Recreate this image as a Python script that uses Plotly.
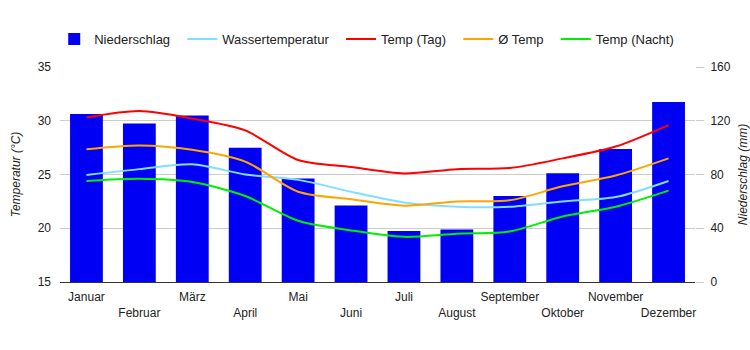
import plotly.graph_objects as go

months = ["Januar", "Februar", "März", "April", "Mai", "Juni", "Juli",
          "August", "September", "Oktober", "November", "Dezember"]
niederschlag = [125, 118, 124, 100, 77, 57, 38, 39, 64, 81, 99, 134]
wasser = [24.95, 25.5, 25.95, 25.0, 24.5, 23.4, 22.4, 22.0, 22.0, 22.5, 22.9, 24.4]
temp_tag = [30.3, 30.9, 30.2, 29.1, 26.35, 25.7, 25.1, 25.5, 25.6, 26.5, 27.6, 29.6]
temp_avg = [27.35, 27.7, 27.3, 26.2, 23.4, 22.7, 22.1, 22.5, 22.6, 23.9, 24.9, 26.5]
temp_nacht = [24.4, 24.6, 24.3, 23.0, 20.7, 19.8, 19.2, 19.5, 19.7, 21.1, 22.0, 23.5]

ticktext = [m if i % 2 == 0 else "<br>" + m for i, m in enumerate(months)]

FONT = "Liberation Sans, Arial, sans-serif"
PAD = "\u00a0\u00a0"

fig = go.Figure()
fig.add_trace(go.Bar(x=months, y=niederschlag, name="Niederschlag" + PAD,
                     marker=dict(color="#0000F5", line=dict(width=0)),
                     yaxis="y", width=0.62))
line_series = [
    ("Wassertemperatur", wasser, "#80DEFF"),
    ("Temp (Tag)", temp_tag, "#FF0000"),
    ("Ø Temp", temp_avg, "#FFA500"),
    ("Temp (Nacht)", temp_nacht, "#00EE00"),
]
for name, vals, col in line_series:
    fig.add_trace(go.Scatter(x=months, y=vals, name=name + PAD, mode="lines",
                             line=dict(color=col, width=2, shape="spline", smoothing=0.8),
                             yaxis="y2"))

fig.update_layout(
    width=750, height=350,
    margin=dict(l=60, r=55, t=67, b=68, autoexpand=False),
    paper_bgcolor="white", plot_bgcolor="white",
    font=dict(family=FONT, size=12, color="#222222"),
    bargap=0.38,
    legend=dict(orientation="h", x=0.0723, xref="container", y=0.931, yref="container",
                xanchor="left", yanchor="top",
                font=dict(size=13, color="#222222"),
                itemwidth=30, traceorder="normal"),
    xaxis=dict(tickmode="array", tickvals=months, ticktext=ticktext, tickangle=0,
               showgrid=False, showline=True, linecolor="#333333", linewidth=1,
               ticks="", tickfont=dict(size=12), ticklabelstandoff=4, fixedrange=True),
    yaxis=dict(range=[0, 160], tickvals=[0, 40, 80, 120, 160],
               side="right", showgrid=True, gridcolor="#CCCCCC", gridwidth=1,
               zeroline=False, ticks="outside", ticklen=8, tickcolor="#CCCCCC",
               tickfont=dict(size=12), ticklabelstandoff=4,
               title=dict(text="<i>Niederschlag (mm)</i>", font=dict(size=12), standoff=13)),
    yaxis2=dict(range=[15, 35], tickvals=[15, 20, 25, 30, 35],
                overlaying="y", side="left", showgrid=False, zeroline=False,
                ticks="", tickfont=dict(size=12), ticklabelstandoff=8,
                title=dict(text="<i>Temperatur (°C)</i>", font=dict(size=12), standoff=14)),
)

fig.write_html("out.html")
